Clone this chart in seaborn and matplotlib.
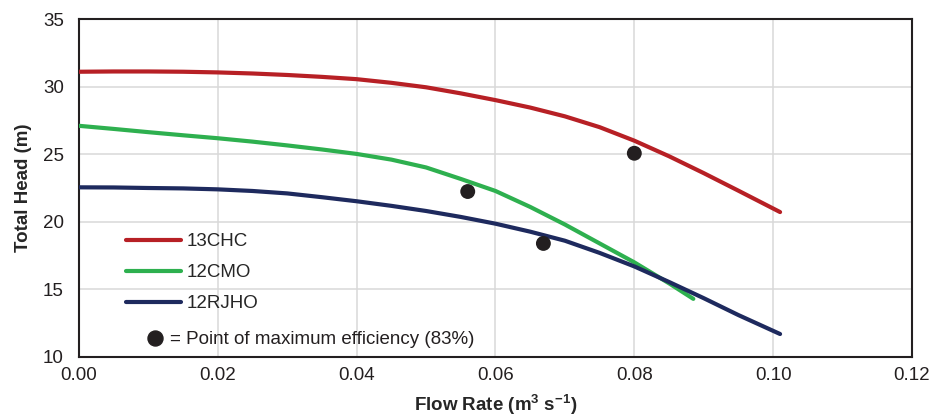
import matplotlib
matplotlib.use('Agg')
import matplotlib.pyplot as plt
import seaborn as sns
import pandas as pd

# pump curves
flow_13chc = [0.0, 0.005, 0.01, 0.015, 0.02, 0.025, 0.03, 0.035, 0.04, 0.045, 0.05, 0.055,
              0.06, 0.065, 0.07, 0.075, 0.08, 0.085, 0.09, 0.095, 0.101]
head_13chc = [31.1, 31.12, 31.12, 31.1, 31.05, 30.97, 30.86, 30.72, 30.55, 30.28, 29.95, 29.5,
              29.0, 28.45, 27.8, 27.0, 26.0, 24.85, 23.6, 22.3, 20.72]

flow_12cmo = [0.0, 0.005, 0.01, 0.015, 0.02, 0.025, 0.03, 0.035, 0.04, 0.045, 0.05, 0.055,
              0.06, 0.065, 0.07, 0.075, 0.08, 0.085, 0.0885]
head_12cmo = [27.1, 26.87, 26.63, 26.4, 26.18, 25.93, 25.65, 25.35, 25.02, 24.6, 24.02, 23.17,
              22.28, 21.1, 19.8, 18.4, 17.0, 15.45, 14.3]

flow_12rjho = [0.0, 0.005, 0.01, 0.015, 0.02, 0.025, 0.03, 0.035, 0.04, 0.045, 0.05, 0.055,
               0.06, 0.065, 0.07, 0.075, 0.08, 0.085, 0.09, 0.095, 0.101]
head_12rjho = [22.55, 22.54, 22.5, 22.47, 22.4, 22.28, 22.1, 21.82, 21.52, 21.18, 20.8, 20.36,
               19.86, 19.27, 18.6, 17.7, 16.7, 15.55, 14.35, 13.1, 11.7]

# best efficiency points
bep_flow = [0.056, 0.0669, 0.080]
bep_head = [22.24, 18.4, 25.07]

pumps = ['13CHC', '12CMO', '12RJHO']
colors = {'13CHC': '#b72025', '12CMO': '#2eb04f', '12RJHO': '#1e2a5e'}

frames = []
for name, q, h in [('13CHC', flow_13chc, head_13chc),
                   ('12CMO', flow_12cmo, head_12cmo),
                   ('12RJHO', flow_12rjho, head_12rjho)]:
    frames.append(pd.DataFrame({'Flow': q, 'Head': h, 'Pump': name}))
df = pd.concat(frames, ignore_index=True)
bep = pd.DataFrame({'Flow': bep_flow, 'Head': bep_head})

sns.set_style('white')
plt.rcParams['font.family'] = ['Liberation Sans', 'DejaVu Sans']
plt.rcParams['mathtext.fontset'] = 'custom'
plt.rcParams['mathtext.rm'] = 'Liberation Sans'
plt.rcParams['mathtext.bf'] = 'Liberation Sans:bold'

FS = 13.5

fig = plt.figure(figsize=(9.32, 4.17), dpi=100)
ax = fig.add_axes([0.0848, 0.1439, 0.8937, 0.8105])

sns.lineplot(data=df, x='Flow', y='Head', hue='Pump', hue_order=pumps, palette=colors,
             sort=False, linewidth=3.0, ax=ax, zorder=3, solid_capstyle='round',
             solid_joinstyle='round')
sns.scatterplot(data=bep, x='Flow', y='Head', color='#231f20', s=115, edgecolor='none',
                ax=ax, zorder=4)

ax.set_xlim(0, 0.12)
ax.set_ylim(10, 35)
ax.set_xticks([0, 0.02, 0.04, 0.06, 0.08, 0.10, 0.12])
ax.set_xticklabels(['0.00', '0.02', '0.04', '0.06', '0.08', '0.10', '0.12'])
ax.set_yticks([10, 15, 20, 25, 30, 35])
ax.tick_params(axis='both', length=0, labelsize=FS, colors='#231f20')
ax.tick_params(axis='x', pad=7)
ax.tick_params(axis='y', pad=11)
ax.grid(True, color='#d9d9d9', linewidth=1.1)
ax.set_axisbelow(True)
for sp in ax.spines.values():
    sp.set_visible(True)
    sp.set_color('#231f20')
    sp.set_linewidth(1.5)

ax.set_xlabel(r'Flow Rate (m$^\mathbf{3}$ s$^\mathbf{-1}$)', fontsize=FS, fontweight='bold', labelpad=6)
ax.set_ylabel('Total Head (m)', fontsize=FS, fontweight='bold', labelpad=8)

leg = ax.legend(loc='upper left', bbox_to_anchor=(0.0564, 0.366), frameon=False, fontsize=FS,
                handlelength=2.93, handletextpad=0.3, labelspacing=0.74, borderaxespad=0,
                borderpad=0)
for line in leg.get_lines():
    line.set_linewidth(3.0)

ax.plot([0.0912], [0.0562], 'o', color='#231f20', markersize=10.8, transform=ax.transAxes, clip_on=False)
ax.text(0.109, 0.052, '= Point of maximum efficiency (83%)', transform=ax.transAxes,
        fontsize=FS, va='center', ha='left', color='#231f20')

plt.savefig('out.png', dpi=100)
plt.close()
